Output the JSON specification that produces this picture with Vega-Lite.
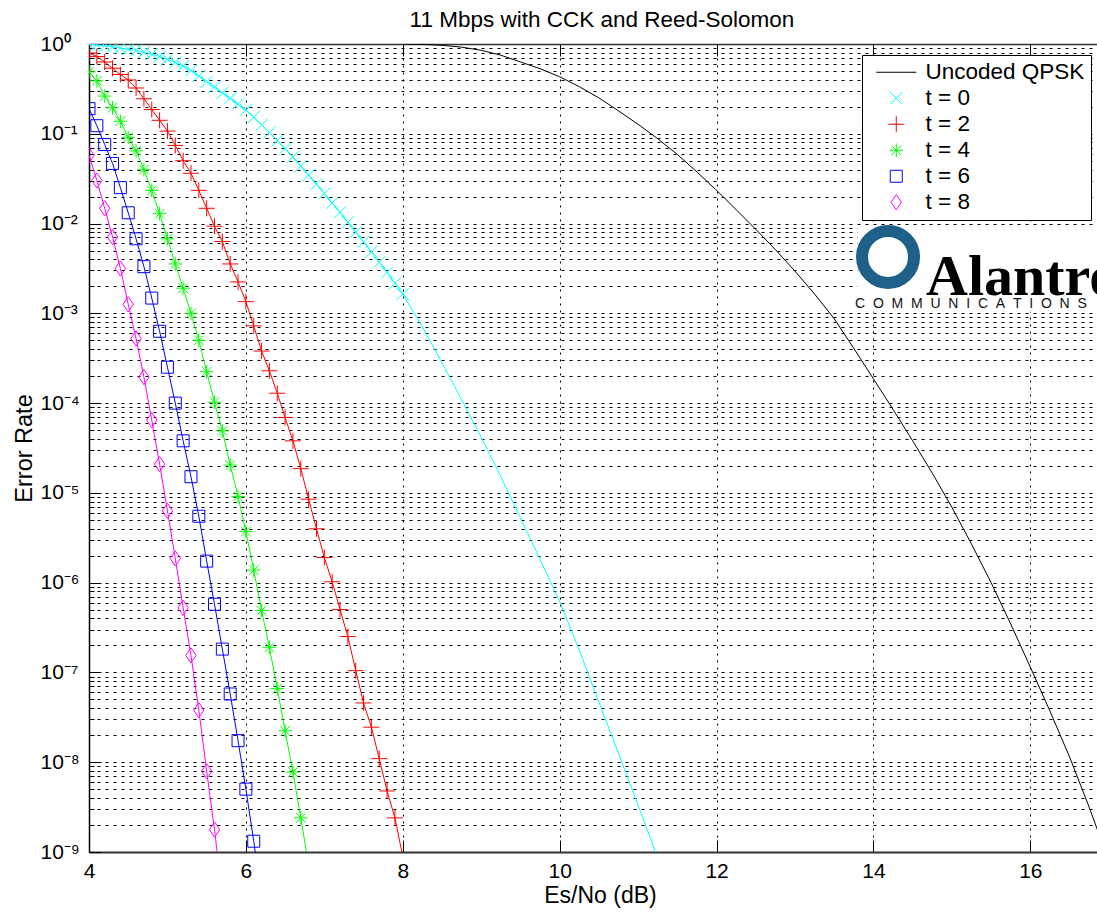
{
"$schema": "https://vega.github.io/schema/vega-lite/v6.json",
"width": 1008,
"height": 808,
"autosize": "none",
"padding": {"left": 89, "top": 44, "right": 0, "bottom": 61},
"background": "white",
"config": {"view": {"stroke": null}, "font": "Liberation Sans"},
"title": {"text": "11 Mbps with CCK and Reed-Solomon", "fontSize": 22.5, "fontWeight": "normal", "font": "Liberation Sans", "color": "#000", "anchor": "middle", "frame": "group", "dx": 9, "offset": -16, "baseline": "alphabetic"},
"data": {"values": [
{"series":"Uncoded QPSK","x":8.0,"y":1},{"series":"Uncoded QPSK","x":8.2,"y":0.9954},{"series":"Uncoded QPSK","x":8.5,"y":0.966},{"series":"Uncoded QPSK","x":8.75,"y":0.9226},{"series":"Uncoded QPSK","x":9.0,"y":0.8511},{"series":"Uncoded QPSK","x":9.25,"y":0.7499},{"series":"Uncoded QPSK","x":9.5,"y":0.631},{"series":"Uncoded QPSK","x":9.75,"y":0.5309},{"series":"Uncoded QPSK","x":10.0,"y":0.4315},{"series":"Uncoded QPSK","x":10.25,"y":0.335},{"series":"Uncoded QPSK","x":10.5,"y":0.2512},{"series":"Uncoded QPSK","x":10.75,"y":0.1799},{"series":"Uncoded QPSK","x":11.0,"y":0.1274},{"series":"Uncoded QPSK","x":11.25,"y":0.0881},{"series":"Uncoded QPSK","x":11.5,"y":0.05888},{"series":"Uncoded QPSK","x":11.75,"y":0.03758},{"series":"Uncoded QPSK","x":12.0,"y":0.02344},{"series":"Uncoded QPSK","x":12.25,"y":0.01429},{"series":"Uncoded QPSK","x":12.5,"y":0.00861},{"series":"Uncoded QPSK","x":12.75,"y":0.005129},{"series":"Uncoded QPSK","x":13.0,"y":0.002951},{"series":"Uncoded QPSK","x":13.25,"y":0.001641},{"series":"Uncoded QPSK","x":13.5,"y":0.000871},{"series":"Uncoded QPSK","x":13.75,"y":0.0004074},{"series":"Uncoded QPSK","x":14.0,"y":0.0001862},{"series":"Uncoded QPSK","x":14.25,"y":8.511e-5},{"series":"Uncoded QPSK","x":14.5,"y":3.802e-5},{"series":"Uncoded QPSK","x":14.75,"y":1.66e-5},{"series":"Uncoded QPSK","x":15.0,"y":6.918e-6},{"series":"Uncoded QPSK","x":15.25,"y":2.692e-6},{"series":"Uncoded QPSK","x":15.5,"y":1e-6},{"series":"Uncoded QPSK","x":15.75,"y":3.467e-7},{"series":"Uncoded QPSK","x":16.0,"y":1.148e-7},{"series":"Uncoded QPSK","x":16.25,"y":3.715e-8},{"series":"Uncoded QPSK","x":16.5,"y":1.148e-8},{"series":"Uncoded QPSK","x":16.75,"y":3.162e-9},{"series":"Uncoded QPSK","x":17.0,"y":7.943e-10},
{"series":"t = 0","x":4.0,"y":0.991},{"series":"t = 0","x":4.1,"y":0.9817},{"series":"t = 0","x":4.2,"y":0.9594},{"series":"t = 0","x":4.3,"y":0.929},{"series":"t = 0","x":4.4,"y":0.9016},{"series":"t = 0","x":4.5,"y":0.875},{"series":"t = 0","x":4.6,"y":0.8472},{"series":"t = 0","x":4.7,"y":0.8128},{"series":"t = 0","x":4.8,"y":0.7727},{"series":"t = 0","x":4.9,"y":0.7244},{"series":"t = 0","x":5.0,"y":0.6761},{"series":"t = 0","x":5.1,"y":0.6237},{"series":"t = 0","x":5.2,"y":0.5689},{"series":"t = 0","x":5.3,"y":0.507},{"series":"t = 0","x":5.4,"y":0.4416},{"series":"t = 0","x":5.5,"y":0.3802},{"series":"t = 0","x":5.6,"y":0.3311},{"series":"t = 0","x":5.7,"y":0.2851},{"series":"t = 0","x":5.8,"y":0.2483},{"series":"t = 0","x":5.9,"y":0.2138},{"series":"t = 0","x":6.0,"y":0.1841},{"series":"t = 0","x":6.1,"y":0.1531},{"series":"t = 0","x":6.2,"y":0.1259},{"series":"t = 0","x":6.3,"y":0.1035},{"series":"t = 0","x":6.4,"y":0.08414},{"series":"t = 0","x":6.5,"y":0.06839},{"series":"t = 0","x":6.6,"y":0.05495},{"series":"t = 0","x":6.7,"y":0.04365},{"series":"t = 0","x":6.8,"y":0.03467},{"series":"t = 0","x":6.9,"y":0.02754},{"series":"t = 0","x":7.0,"y":0.02163},{"series":"t = 0","x":7.1,"y":0.01698},{"series":"t = 0","x":7.2,"y":0.01334},{"series":"t = 0","x":7.3,"y":0.01035},{"series":"t = 0","x":7.4,"y":0.008035},{"series":"t = 0","x":7.5,"y":0.006237},{"series":"t = 0","x":7.6,"y":0.004842},{"series":"t = 0","x":7.7,"y":0.003715},{"series":"t = 0","x":7.8,"y":0.002851},{"series":"t = 0","x":7.9,"y":0.002163},{"series":"t = 0","x":8.0,"y":0.001641},{"series":"t = 0","x":8.25,"y":0.0007079},{"series":"t = 0","x":8.5,"y":0.0002818},{"series":"t = 0","x":8.75,"y":0.0001096},{"series":"t = 0","x":9.0,"y":4.169e-5},{"series":"t = 0","x":9.25,"y":1.514e-5},{"series":"t = 0","x":9.5,"y":5.248e-6},{"series":"t = 0","x":9.75,"y":1.82e-6},{"series":"t = 0","x":10.0,"y":6.166e-7},{"series":"t = 0","x":10.25,"y":1.778e-7},{"series":"t = 0","x":10.5,"y":4.677e-8},{"series":"t = 0","x":10.75,"y":1.259e-8},{"series":"t = 0","x":11.0,"y":3.311e-9},{"series":"t = 0","x":11.25,"y":8.71e-10},{"series":"t = 0","x":11.5,"y":1.995e-10},
{"series":"t = 2","x":4.0,"y":0.7943},{"series":"t = 2","x":4.1,"y":0.7244},{"series":"t = 2","x":4.2,"y":0.631},{"series":"t = 2","x":4.3,"y":0.537},{"series":"t = 2","x":4.4,"y":0.4571},{"series":"t = 2","x":4.5,"y":0.3981},{"series":"t = 2","x":4.6,"y":0.3236},{"series":"t = 2","x":4.7,"y":0.2455},{"series":"t = 2","x":4.8,"y":0.1862},{"series":"t = 2","x":4.9,"y":0.1413},{"series":"t = 2","x":5.0,"y":0.1072},{"series":"t = 2","x":5.1,"y":0.07413},{"series":"t = 2","x":5.2,"y":0.05012},{"series":"t = 2","x":5.3,"y":0.03631},{"series":"t = 2","x":5.4,"y":0.02344},{"series":"t = 2","x":5.5,"y":0.01479},{"series":"t = 2","x":5.6,"y":0.009333},{"series":"t = 2","x":5.7,"y":0.00631},{"series":"t = 2","x":5.8,"y":0.003548},{"series":"t = 2","x":5.9,"y":0.002239},{"series":"t = 2","x":6.0,"y":0.001349},{"series":"t = 2","x":6.1,"y":0.0007244},{"series":"t = 2","x":6.2,"y":0.0003802},{"series":"t = 2","x":6.3,"y":0.0002291},{"series":"t = 2","x":6.4,"y":0.0001288},{"series":"t = 2","x":6.5,"y":6.918e-5},{"series":"t = 2","x":6.6,"y":3.802e-5},{"series":"t = 2","x":6.7,"y":1.862e-5},{"series":"t = 2","x":6.8,"y":8.511e-6},{"series":"t = 2","x":6.9,"y":3.981e-6},{"series":"t = 2","x":7.0,"y":1.905e-6},{"series":"t = 2","x":7.1,"y":1.023e-6},{"series":"t = 2","x":7.2,"y":5.012e-7},{"series":"t = 2","x":7.3,"y":2.512e-7},{"series":"t = 2","x":7.4,"y":1.047e-7},{"series":"t = 2","x":7.5,"y":4.571e-8},{"series":"t = 2","x":7.6,"y":2.455e-8},{"series":"t = 2","x":7.7,"y":1.096e-8},{"series":"t = 2","x":7.8,"y":4.786e-9},{"series":"t = 2","x":7.9,"y":2.399e-9},{"series":"t = 2","x":8.0,"y":8.913e-10},
{"series":"t = 4","x":4.0,"y":0.4898},{"series":"t = 4","x":4.1,"y":0.389},{"series":"t = 4","x":4.2,"y":0.263},{"series":"t = 4","x":4.3,"y":0.195},{"series":"t = 4","x":4.4,"y":0.138},{"series":"t = 4","x":4.5,"y":0.0912},{"series":"t = 4","x":4.6,"y":0.06457},{"series":"t = 4","x":4.7,"y":0.03981},{"series":"t = 4","x":4.8,"y":0.02344},{"series":"t = 4","x":4.9,"y":0.01288},{"series":"t = 4","x":5.0,"y":0.006761},{"series":"t = 4","x":5.1,"y":0.003548},{"series":"t = 4","x":5.2,"y":0.001905},{"series":"t = 4","x":5.3,"y":0.001},{"series":"t = 4","x":5.4,"y":0.0005012},{"series":"t = 4","x":5.5,"y":0.0002239},{"series":"t = 4","x":5.6,"y":0.0001023},{"series":"t = 4","x":5.7,"y":4.898e-5},{"series":"t = 4","x":5.8,"y":2.042e-5},{"series":"t = 4","x":5.9,"y":9.12e-6},{"series":"t = 4","x":6.0,"y":3.715e-6},{"series":"t = 4","x":6.1,"y":1.38e-6},{"series":"t = 4","x":6.2,"y":4.898e-7},{"series":"t = 4","x":6.3,"y":1.905e-7},{"series":"t = 4","x":6.4,"y":6.607e-8},{"series":"t = 4","x":6.5,"y":2.239e-8},{"series":"t = 4","x":6.6,"y":7.762e-9},{"series":"t = 4","x":6.7,"y":2.399e-9},{"series":"t = 4","x":6.8,"y":7.079e-10},
{"series":"t = 6","x":4.0,"y":0.1905},{"series":"t = 6","x":4.1,"y":0.123},{"series":"t = 6","x":4.2,"y":0.07586},{"series":"t = 6","x":4.3,"y":0.04677},{"series":"t = 6","x":4.4,"y":0.02512},{"series":"t = 6","x":4.5,"y":0.01318},{"series":"t = 6","x":4.6,"y":0.006761},{"series":"t = 6","x":4.7,"y":0.003311},{"series":"t = 6","x":4.8,"y":0.001479},{"series":"t = 6","x":4.9,"y":0.000631},{"series":"t = 6","x":5.0,"y":0.0002512},{"series":"t = 6","x":5.1,"y":0.0001},{"series":"t = 6","x":5.2,"y":3.802e-5},{"series":"t = 6","x":5.3,"y":1.514e-5},{"series":"t = 6","x":5.4,"y":5.495e-6},{"series":"t = 6","x":5.5,"y":1.738e-6},{"series":"t = 6","x":5.6,"y":5.754e-7},{"series":"t = 6","x":5.7,"y":1.82e-7},{"series":"t = 6","x":5.8,"y":5.754e-8},{"series":"t = 6","x":5.9,"y":1.738e-8},{"series":"t = 6","x":6.0,"y":5.012e-9},{"series":"t = 6","x":6.1,"y":1.318e-9},{"series":"t = 6","x":6.2,"y":3.162e-10},
{"series":"t = 8","x":4.0,"y":0.05754},{"series":"t = 8","x":4.1,"y":0.0302},{"series":"t = 8","x":4.2,"y":0.01479},{"series":"t = 8","x":4.3,"y":0.007079},{"series":"t = 8","x":4.4,"y":0.003162},{"series":"t = 8","x":4.5,"y":0.001259},{"series":"t = 8","x":4.6,"y":0.0005248},{"series":"t = 8","x":4.7,"y":0.000195},{"series":"t = 8","x":4.8,"y":6.457e-5},{"series":"t = 8","x":4.9,"y":2.089e-5},{"series":"t = 8","x":5.0,"y":6.31e-6},{"series":"t = 8","x":5.1,"y":1.862e-6},{"series":"t = 8","x":5.2,"y":5.248e-7},{"series":"t = 8","x":5.3,"y":1.549e-7},{"series":"t = 8","x":5.4,"y":3.802e-8},{"series":"t = 8","x":5.5,"y":7.943e-9},{"series":"t = 8","x":5.6,"y":1.778e-9},{"series":"t = 8","x":5.7,"y":3.162e-10}
]},
"layer": [
{
"data": {"values": [{}]},
"mark": {"type": "rect", "fill": "white", "clip": true},
"encoding": {
"x": {"datum": 13.8, "type": "quantitative", "scale": {"domain": [4, 16.85], "nice": false, "zero": false}, "axis": null},
"x2": {"datum": 17.5},
"y": {"datum": 0.0094, "type": "quantitative", "scale": {"type": "log", "domain": [1e-9, 1], "nice": false}, "axis": null},
"y2": {"datum": 0.00104}
}
},
{
"transform": [{"filter": "datum.series != 'Uncoded QPSK' && datum.x <= 8.05 && datum.y >= 1e-9"}],
"mark": {"type": "point", "filled": false, "strokeWidth": 1, "size": 256, "opacity": 1, "clip": true},
"encoding": {
"x": {"field": "x", "type": "quantitative", "scale": {"domain": [4, 16.85], "nice": false, "zero": false},
"axis": {"orient": "top", "values": [4, 6, 8, 10, 12, 14, 16], "labels": false, "grid": false, "tickSize": -12, "tickColor": "#000", "tickWidth": 1, "domainColor": "#333", "domainWidth": 1.5, "title": null}},
"y": {"field": "y", "type": "quantitative", "scale": {"type": "log", "domain": [1e-9, 1], "nice": false}, "axis": null},
"color": {"field": "series", "type": "nominal", "scale": {"domain": ["Uncoded QPSK", "t = 0", "t = 2", "t = 4", "t = 6", "t = 8"], "range": ["#000000", "#00ffff", "#ff0000", "#00ff00", "#0000ff", "#ff00ff"]},
"legend": {"title": null, "orient": "none", "legendX": 773, "legendY": 11, "strokeColor": "#000", "fillColor": "#fff", "padding": 6, "labelFontSize": 22.5, "labelFont": "Liberation Sans", "labelColor": "#000", "labelLimit": 400, "rowPadding": 3, "symbolOffset": 17, "labelOffset": 18, "symbolSize": 256, "symbolStrokeWidth": 1, "symbolOpacity": 1, "labelExpr": "datum.label + '\u00a0\u00a0\u00a0\u00a0\u00a0\u00a0\u00a0\u00a0\u00a0\u00a0'"}},
"shape": {"field": "series", "type": "nominal", "scale": {"domain": ["Uncoded QPSK", "t = 0", "t = 2", "t = 4", "t = 6", "t = 8"], "range": ["M-2.5,0L2.5,0", "M-0.75,-0.75L0.75,0.75M-0.75,0.75L0.75,-0.75", "M-1,0L1,0M0,-1L0,1", "M-0.85,0L0.85,0M0,-0.85L0,0.85M-0.6,-0.6L0.6,0.6M-0.6,0.6L0.6,-0.6", "M-0.75,-0.75L0.75,-0.75L0.75,0.75L-0.75,0.75Z", "M0,-0.95L0.65,0L0,0.95L-0.65,0Z"]},
"legend": {"title": null, "orient": "none", "legendX": 773, "legendY": 11, "strokeColor": "#000", "fillColor": "#fff", "padding": 6, "labelFontSize": 22.5, "labelFont": "Liberation Sans", "labelColor": "#000", "labelLimit": 400, "rowPadding": 3, "symbolOffset": 17, "labelOffset": 18, "symbolSize": 256, "symbolStrokeWidth": 1, "symbolOpacity": 1, "labelExpr": "datum.label + '\u00a0\u00a0\u00a0\u00a0\u00a0\u00a0\u00a0\u00a0\u00a0\u00a0'"}}
}
},
{
"mark": {"type": "line", "strokeWidth": 1, "clip": true},
"encoding": {
"x": {"field": "x", "type": "quantitative", "scale": {"domain": [4, 16.85], "nice": false, "zero": false},
"axis": {"orient": "bottom", "values": [4, 6, 8, 10, 12, 14, 16], "format": "d", "grid": true, "gridColor": "#000", "gridDash": [2, 5], "gridWidth": 1, "gridOpacity": 1, "tickSize": -12, "tickColor": "#000", "tickWidth": 1, "domainColor": "#333", "domainWidth": 2, "labelFontSize": 21, "labelColor": "#000", "labelPadding": 20, "labelFlush": false, "labelBaseline": "top", "labelOverlap": false, "title": "Es/No (dB)", "titleFontSize": 23, "titleFontWeight": "normal", "titleColor": "#000", "titleX": 511, "titleY": 50, "titleBaseline": "alphabetic", "titleAlign": "center"}},
"y": {"field": "y", "type": "quantitative", "scale": {"type": "log", "domain": [1e-9, 1], "nice": false},
"axis": {"orient": "left", "values": [1e-9,2e-9,3e-9,4e-9,5e-9,6e-9,7e-9,8e-9,9e-9,1e-8,2e-8,3e-8,4e-8,5e-8,6e-8,7e-8,8e-8,9e-8,1e-7,2e-7,3e-7,4e-7,5e-7,6e-7,7e-7,8e-7,9e-7,1e-6,2e-6,3e-6,4e-6,5e-6,6e-6,7e-6,8e-6,9e-6,1e-5,2e-5,3e-5,4e-5,5e-5,6e-5,7e-5,8e-5,9e-5,1e-4,2e-4,3e-4,4e-4,5e-4,6e-4,7e-4,8e-4,9e-4,1e-3,2e-3,3e-3,4e-3,5e-3,6e-3,7e-3,8e-3,9e-3,1e-2,2e-2,3e-2,4e-2,5e-2,6e-2,7e-2,8e-2,9e-2,0.1,0.2,0.3,0.4,0.5,0.6,0.7,0.8,0.9,1],
"grid": true, "gridColor": "#000", "gridDash": [3, 5], "gridWidth": 1, "gridOpacity": 1,
"tickSize": -12, "tickColor": "#000", "tickWidth": 1,
"tickDash": {"condition": {"test": "abs(log(datum.value)/LN10 - round(log(datum.value)/LN10)) < 0.001", "value": [12, 0]}, "value": [5, 40]},
"domainColor": "#000", "domainWidth": 1.5,
"labelExpr": "abs(log(datum.value)/LN10 - round(log(datum.value)/LN10)) < 0.001 ? '10' + (round(log(datum.value)/LN10) < 0 ? '⁻' : '') + substring('⁰¹²³⁴⁵⁶⁷⁸⁹', abs(round(log(datum.value)/LN10)), abs(round(log(datum.value)/LN10)) + 1) : ''",
"labelAlign": "left", "labelBaseline": "middle", "labelPadding": 61, "labelFontSize": 21, "labelColor": "#000", "labelOverlap": false, "labelFlush": false, "labelBound": false,
"title": "Error Rate", "titleFontSize": 23.5, "titleFontWeight": "normal", "titleColor": "#000", "titleX": -58, "titleY": 404, "titleAngle": -90, "titleBaseline": "alphabetic", "titleAlign": "center"}},
"color": {"field": "series", "type": "nominal", "scale": {"domain": ["Uncoded QPSK", "t = 0", "t = 2", "t = 4", "t = 6", "t = 8"], "range": ["#000000", "#00ffff", "#ff0000", "#00ff00", "#0000ff", "#ff00ff"]}, "legend": null}
}
},
{
"data": {"values": [{}]},
"mark": {"type": "point", "shape": "circle", "filled": false, "size": 2704, "strokeWidth": 12, "color": "#1e6088", "opacity": 1},
"encoding": {
"x": {"datum": 14.186, "type": "quantitative", "scale": {"domain": [4, 16.85], "nice": false, "zero": false}, "axis": null},
"y": {"datum": 0.00425, "type": "quantitative", "scale": {"type": "log", "domain": [1e-9, 1], "nice": false}, "axis": null}
}
},
{
"data": {"values": [{}]},
"mark": {"type": "text", "text": "Alantro", "font": "Liberation Serif", "fontWeight": "bold", "fontSize": 58, "align": "left", "baseline": "alphabetic", "color": "#000"},
"encoding": {
"x": {"datum": 14.67, "type": "quantitative", "scale": {"domain": [4, 16.85], "nice": false, "zero": false}, "axis": null},
"y": {"datum": 0.0016, "type": "quantitative", "scale": {"type": "log", "domain": [1e-9, 1], "nice": false}, "axis": null}
}
},
{
"data": {"values": [{}]},
"mark": {"type": "text", "text": "C\u00a0\u00a0O\u00a0\u00a0M\u00a0\u00a0M\u00a0\u00a0U\u00a0\u00a0N\u00a0\u00a0I\u00a0\u00a0C\u00a0\u00a0A\u00a0\u00a0T\u00a0\u00a0I\u00a0\u00a0O\u00a0\u00a0N\u00a0\u00a0S", "font": "Liberation Sans", "fontSize": 14, "align": "left", "baseline": "alphabetic", "color": "#111"},
"encoding": {
"x": {"datum": 13.765, "type": "quantitative", "scale": {"domain": [4, 16.85], "nice": false, "zero": false}, "axis": null},
"y": {"datum": 0.00115, "type": "quantitative", "scale": {"type": "log", "domain": [1e-9, 1], "nice": false}, "axis": null}
}
}
],
"resolve": {"axis": {"x": "independent", "y": "independent"}}
}
